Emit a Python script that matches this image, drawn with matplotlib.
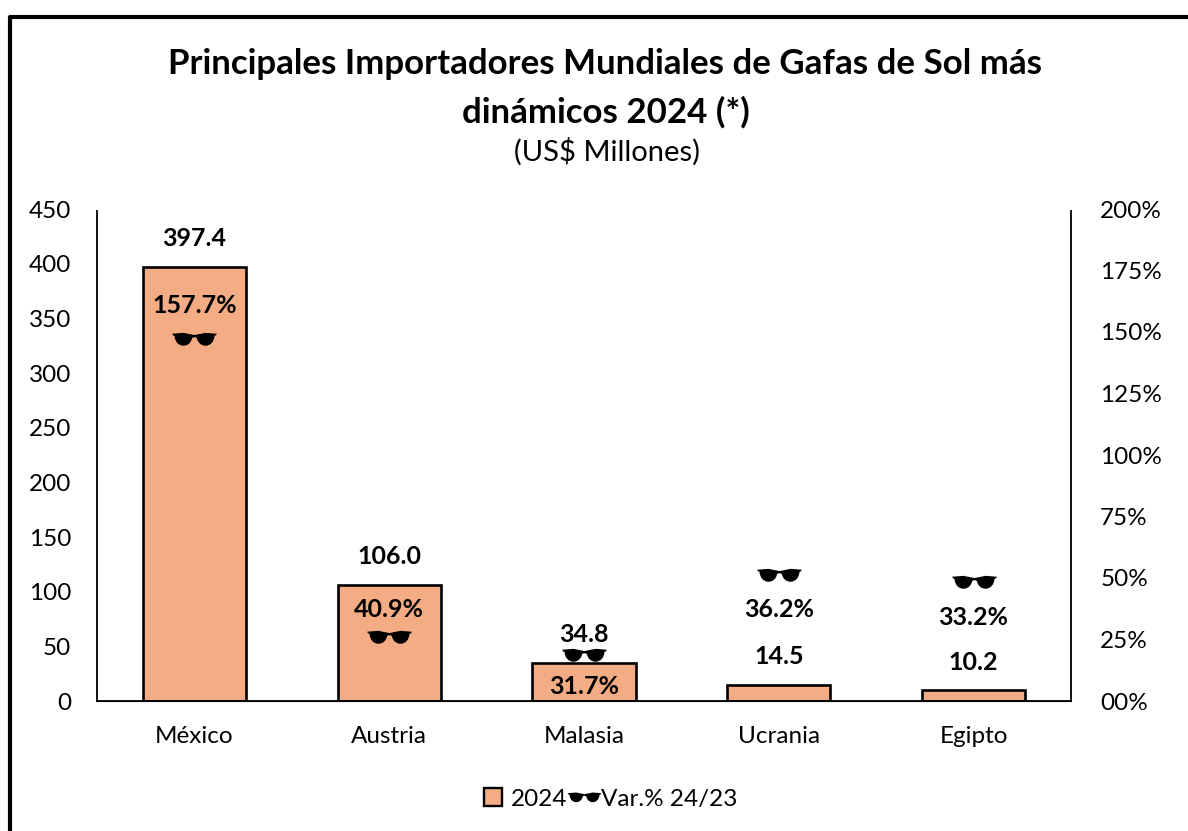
import matplotlib
matplotlib.use("Agg")
import matplotlib.pyplot as plt
from matplotlib.lines import Line2D
from matplotlib.patches import Patch
from matplotlib.path import Path

plt.rcParams["font.family"] = ["Lato", "DejaVu Sans"]

paises = ["México", "Austria", "Malasia", "Ucrania", "Egipto"]
valores = [397.4, 106.0, 34.8, 14.5, 10.2]
# the marker heights in the picture do not match the printed labels
var_puntos = [147.3, 26.1, 18.8, 51.4, 48.2]
var_labels = ["157.7%", "40.9%", "31.7%", "36.2%", "33.2%"]
ticks_izq = [0, 50, 100, 150, 200, 250, 300, 350, 400, 450]
ticks_der = [0, 25, 50, 75, 100, 125, 150, 175, 200]
ticks_der_labels = ["00%", "25%", "50%", "75%", "100%", "125%", "150%", "175%", "200%"]
offset_val = [28, 29, 28, 29, 27]
offset_var = [33, 27, -32, -35, -35]

COLOR_BARRA = "#F4AC84"

# sunglasses shape for the markers
L, M, C = Path.LINETO, Path.MOVETO, Path.CURVE4
gafas = Path(
    [(-1.0, 0.26), (-0.5, 0.3), (-0.1, 0.22), (0.0, 0.2), (0.1, 0.22), (0.5, 0.3), (1.0, 0.26),
     (0.98, 0.2), (0.9, 0.16),
     (0.88, -0.1), (0.72, -0.28), (0.5, -0.28),
     (0.28, -0.28), (0.14, -0.12), (0.11, 0.06),
     (0.04, 0.1), (-0.04, 0.1), (-0.11, 0.06),
     (-0.14, -0.12), (-0.28, -0.28), (-0.5, -0.28),
     (-0.72, -0.28), (-0.88, -0.1), (-0.9, 0.16),
     (-0.98, 0.2), (-1.0, 0.26)],
    [M, L, L, L, L, L, L,
     L, L,
     C, C, C,
     C, C, C,
     L, L, L,
     C, C, C,
     C, C, C,
     L, Path.CLOSEPOLY],
)

W, H = 1188, 831
fig = plt.figure(figsize=(W / 100, H / 100), dpi=100)
ax = fig.add_axes([97 / W, 1 - 701 / H, (1071 - 97) / W, (701 - 209) / H])
ax2 = ax.twinx()

x = list(range(len(paises)))
ax.bar(x, valores, width=0.53, color=COLOR_BARRA, edgecolor="black", linewidth=1.9, zorder=2)
ax.set_xlim(-0.5, 4.5)
ax.set_ylim(0, 450)
ax.set_yticks(ticks_izq)
ax.set_xticks(x, paises)
ax.tick_params(axis="y", length=0, labelsize=17.5, pad=18.7)
ax.tick_params(axis="x", length=0, labelsize=17.5, pad=18)

ax2.set_ylim(0, 200)
ax2.set_yticks(ticks_der, ticks_der_labels)
ax2.tick_params(axis="y", length=0, labelsize=17.5, pad=21)
ax2.plot(x, var_puntos, linestyle="none", marker=gafas, markersize=32,
         color="black", markeredgewidth=0, zorder=5)

for s in ["left", "right", "bottom"]:
    ax2.spines[s].set_linewidth(1.3)
ax2.spines["left"].set_bounds(0, 199)
ax2.spines["right"].set_bounds(0, 199)
ax.spines["left"].set_visible(False)
ax.spines["right"].set_visible(False)
ax2.spines["top"].set_visible(False)
ax.spines["top"].set_visible(False)

for i in x:
    ax.annotate(f"{valores[i]:.1f}", (i, valores[i]), xytext=(0, offset_val[i] / 1.389),
                textcoords="offset points", ha="center", va="center",
                fontsize=18, fontweight="bold")
    ax2.annotate(var_labels[i], (i, var_puntos[i]), xytext=(0, offset_var[i] / 1.389),
                 textcoords="offset points", ha="center", va="center",
                 fontsize=18, fontweight="bold")

fig.text(605 / W, 1 - 64 / H, "Principales Importadores Mundiales de Gafas de Sol más",
         ha="center", va="center", fontsize=25.1, fontweight="bold")
fig.text(606 / W, 1 - 112 / H, "dinámicos 2024 (*)",
         ha="center", va="center", fontsize=25.1, fontweight="bold")
fig.text(607 / W, 1 - 152 / H, "(US$ Millones)", ha="center", va="center", fontsize=21)

handles = [
    Patch(facecolor=COLOR_BARRA, edgecolor="black", linewidth=1.7, label="2024"),
    Line2D([], [], linestyle="none", marker=gafas, markersize=24, color="black",
           markeredgewidth=0, label="Var.% 24/23"),
]
fig.legend(handles=handles, loc="center", bbox_to_anchor=(611 / W, 1 - 799 / H), ncol=2,
           frameon=False, fontsize=17.5, handlelength=0.75, handleheight=0.75,
           columnspacing=0.3, handletextpad=0.35)

# chart border, running off the right and bottom of the image
fig.add_artist(Line2D([10 / W, 10 / W, 1.0], [0, 1 - 17 / H, 1 - 17 / H],
                      color="black", linewidth=3, transform=fig.transFigure))

fig.savefig("out.png", dpi=100)
